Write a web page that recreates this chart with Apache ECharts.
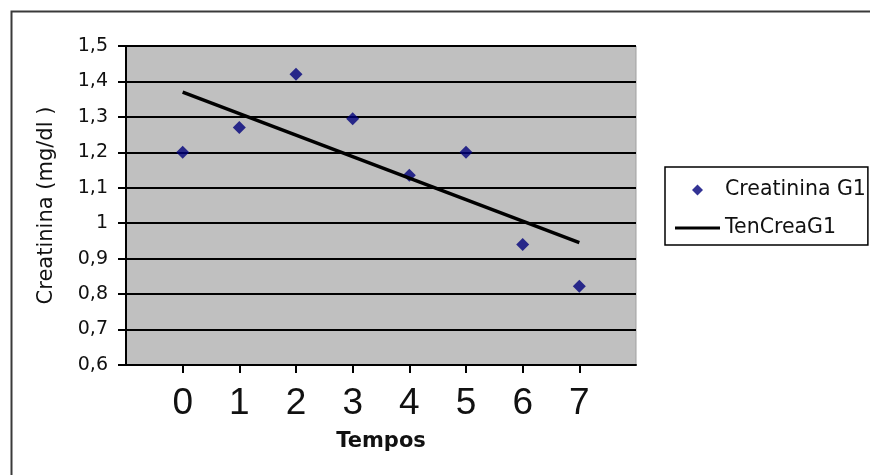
<!DOCTYPE html>
<html><head><meta charset="utf-8">
<script src="https://cdn.jsdelivr.net/npm/echarts@6/dist/echarts.min.js"></script>
<style>html,body{margin:0;padding:0;background:#fff}#c{width:870px;height:475px}</style>
</head><body><div id="c"></div>
<script>
const tempos = ['0', '1', '2', '3', '4', '5', '6', '7'];
const creatininaG1 = [1.20, 1.27, 1.42, 1.295, 1.135, 1.20, 0.94, 0.822];
const trendX = ['0', '7'];
const tenCreaG1 = [1.37, 0.945];
const yTicks = [0.6, 0.7, 0.8, 0.9, 1.0, 1.1, 1.2, 1.3, 1.4, 1.5];
// empty slots before and after the categories leave the margins seen in the reference
const xSlots = [''].concat(tempos, [' ']);

const chart = echarts.init(document.getElementById('c'));
const arial = '"Liberation Sans", Arial, sans-serif';
const dv = '"DejaVu Sans", Verdana, sans-serif';
const realSlot = (i, v) => String(v).trim() !== '';
chart.setOption({
  animation: false,
  backgroundColor: '#fff',
  graphic: [{
    type: 'rect', left: 9, top: 9, shape: {width: 880, height: 480},
    style: {fill: 'none', stroke: '#3a3a3a', lineWidth: 2}, silent: true
  }],
  grid: {left: 126, top: 46, right: 234, bottom: 110, show: true,
         backgroundColor: '#c0c0c0', borderColor: '#a0a0a0', borderWidth: 1},
  xAxis: {
    type: 'category', data: xSlots, boundaryGap: false,
    name: 'Tempos', nameLocation: 'middle', nameGap: 66,
    nameTextStyle: {fontFamily: dv, fontSize: 21, fontWeight: 'bold', color: '#111'},
    axisLine: {show: true, onZero: false, lineStyle: {color: '#000', width: 2}},
    axisTick: {show: true, length: 8, interval: realSlot, lineStyle: {color: '#000', width: 2}},
    axisLabel: {fontFamily: arial, fontSize: 37, color: '#111', margin: 20, interval: realSlot},
    splitLine: {show: false}
  },
  yAxis: {
    type: 'value', min: 0.6, max: 1.5, interval: 0.1,
    name: 'Creatinina (mg/dl )', nameLocation: 'middle', nameGap: 69, nameRotate: 90,
    nameTextStyle: {fontFamily: dv, fontSize: 21, color: '#111'},
    axisLine: {show: true, onZero: false, lineStyle: {color: '#000', width: 2}},
    axisTick: {show: true, length: 8, lineStyle: {color: '#000', width: 2}},
    axisLabel: {fontFamily: dv, fontSize: 19, color: '#111', margin: 18,
                formatter: v => v.toFixed(1).replace(/\.0$/, '').replace('.', ',')},
    splitLine: {show: true, lineStyle: {color: '#000', width: 2}}
  },
  legend: {
    orient: 'vertical', left: 665, top: 167,
    padding: [12, 2, 6, 10], itemGap: 16,
    borderColor: '#000', borderWidth: 1.5, backgroundColor: '#fff',
    itemWidth: 45, itemHeight: 11, symbolKeepAspect: true,
    textStyle: {fontFamily: dv, fontSize: 20.5, lineHeight: 22, color: '#111'},
    data: [
      {name: 'Creatinina G1', icon: 'path://M5,0L10,5L5,10L0,5Z'},
      {name: 'TenCreaG1', icon: 'path://M0,0H45V3H0Z'}
    ]
  },
  series: [
    {
      name: 'Creatinina G1', type: 'scatter', symbol: 'diamond', symbolSize: 13,
      itemStyle: {color: '#00007a'},
      data: tempos.map((t, i) => [t, creatininaG1[i]])
    },
    {
      name: 'TenCreaG1', type: 'line', symbol: 'none',
      lineStyle: {color: '#000', width: 3.5}, itemStyle: {color: '#000'},
      data: trendX.map((t, i) => [t, tenCreaG1[i]])
    }
  ]
});
</script></body></html>
